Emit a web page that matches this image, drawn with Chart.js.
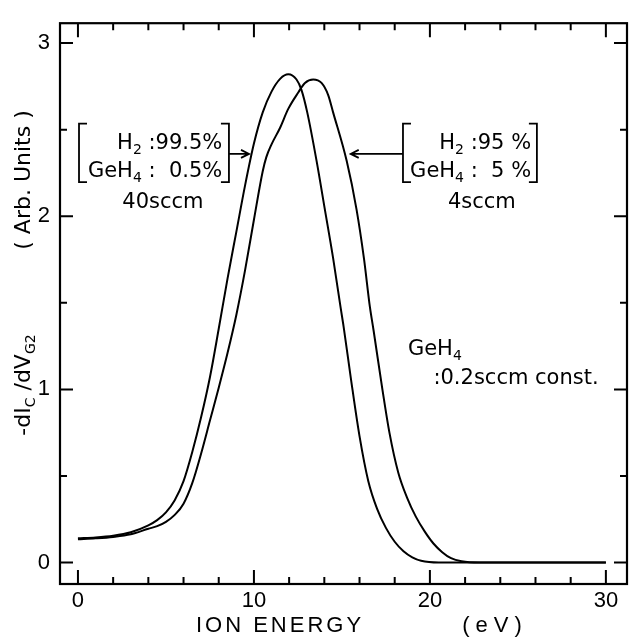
<!DOCTYPE html>
<html>
<head>
<meta charset="utf-8">
<script src="https://cdn.jsdelivr.net/npm/chart.js@4.4.1/dist/chart.umd.min.js"></script>
<style>
  html, body { margin: 0; padding: 0; background: #fff; }
  canvas { display: block; }
</style>
</head>
<body>
<canvas id="ionChart" width="640" height="642"></canvas>
<script>
// H2 99.5% / GeH4 0.5%, 40 sccm
const energyA = [0, 1, 2, 3, 4, 4.5, 5, 5.5, 6, 6.5, 7, 7.5, 8, 8.5, 9, 9.5, 10, 10.5, 11, 11.5, 11.95,
  12.42, 12.7, 13.03, 13.56, 14.03, 14.5, 14.92, 15.1, 15.5, 16, 16.5, 17, 17.5, 18, 18.5, 19, 19.5, 20.5, 25, 30];
const signalA = [0.14, 0.145, 0.155, 0.175, 0.215, 0.245, 0.29, 0.36, 0.47, 0.64, 0.84, 1.07, 1.35, 1.64, 1.91, 2.18, 2.42, 2.6, 2.72, 2.795, 2.82,
  2.79, 2.73, 2.6, 2.32, 2.04, 1.758, 1.476, 1.36, 1.07, 0.73, 0.47, 0.31, 0.2, 0.12, 0.065, 0.03, 0.01, 0, 0, 0];

// H2 95% / GeH4 5%, 4 sccm
const energyB = [0, 1, 2, 3, 4, 4.5, 5, 5.5, 6, 6.5, 7, 7.5, 8, 8.5, 9, 9.5, 10, 10.5, 10.7, 11, 11.48, 11.95, 12.52, 12.9, 13.37,
  13.84, 14.22, 14.5, 15.27, 15.83, 16.25, 16.59, 16.8, 17.3, 17.7, 18.2, 18.7, 19.2, 19.7, 20.2, 20.7, 21.2, 21.8, 22.8, 30];
const signalB = [0.135, 0.14, 0.148, 0.163, 0.195, 0.21, 0.235, 0.275, 0.34, 0.46, 0.63, 0.82, 1.01, 1.21, 1.43, 1.69, 1.98, 2.26, 2.34, 2.415, 2.51, 2.62, 2.715, 2.77, 2.79,
  2.77, 2.7, 2.6, 2.32, 2.04, 1.758, 1.476, 1.34, 1.0, 0.75, 0.52, 0.375, 0.265, 0.18, 0.11, 0.06, 0.025, 0.007, 0, 0];

const xTickLabels = [0, 10, 20, 30];
const xMinorTicks = [2, 4, 6, 8, 12, 14, 16, 18, 22, 24, 26, 28];
const yTickLabels = [0, 1, 2, 3];
const yMinorTicks = [0.5, 1.5, 2.5];

const toPoints = (xs, ys) => xs.map((x, i) => ({ x: x, y: ys[i] }));

// draw text with subscripts: parts = [[text, isSub], ...]
function drawRich(ctx, parts, x, y, align, size) {
  const main = size + 'px "DejaVu Sans"';
  const sub = Math.round(size * 0.65) + 'px "DejaVu Sans"';
  let w = 0;
  parts.forEach(p => { ctx.font = p[1] ? sub : main; w += ctx.measureText(p[0]).width; });
  let cx = align === 'right' ? x - w : align === 'center' ? x - w / 2 : x;
  ctx.textAlign = 'left';
  ctx.textBaseline = 'middle';
  parts.forEach(p => {
    ctx.font = p[1] ? sub : main;
    ctx.fillText(p[0], cx, p[1] ? y + size * 0.32 : y);
    cx += ctx.measureText(p[0]).width;
  });
}

function bracket(ctx, x, top, bottom, dir) {
  ctx.beginPath();
  ctx.moveTo(x + 8 * dir, top);
  ctx.lineTo(x, top);
  ctx.lineTo(x, bottom);
  ctx.lineTo(x + 8 * dir, bottom);
  ctx.stroke();
}

function arrow(ctx, x1, x2, y) {
  const d = x2 > x1 ? 1 : -1;
  ctx.beginPath();
  ctx.moveTo(x1, y);
  ctx.lineTo(x2, y);
  ctx.moveTo(x2 - 8 * d, y - 4);
  ctx.lineTo(x2, y);
  ctx.lineTo(x2 - 8 * d, y + 4);
  ctx.stroke();
}

const framePlugin = {
  id: 'frame',
  afterDraw(chart) {
    const ctx = chart.ctx;
    const { left, right, top, bottom } = chart.chartArea;
    const xs = chart.scales.x, ys = chart.scales.y;
    const px = v => xs.getPixelForValue(v);
    const py = v => ys.getPixelForValue(v);
    ctx.save();
    ctx.strokeStyle = '#000';
    ctx.fillStyle = '#000';
    ctx.lineWidth = 2.2;
    ctx.strokeRect(left, top, right - left, bottom - top);

    // inward ticks on all four sides
    ctx.lineWidth = 2;
    ctx.beginPath();
    xTickLabels.concat(xMinorTicks).forEach(v => {
      const len = xTickLabels.includes(v) ? 14 : 7;
      ctx.moveTo(px(v), bottom); ctx.lineTo(px(v), bottom - len);
      ctx.moveTo(px(v), top); ctx.lineTo(px(v), top + len);
    });
    yTickLabels.concat(yMinorTicks).forEach(v => {
      const len = yTickLabels.includes(v) ? 13 : 7;
      ctx.moveTo(left, py(v)); ctx.lineTo(left + len, py(v));
      ctx.moveTo(right, py(v)); ctx.lineTo(right - len, py(v));
    });
    ctx.stroke();

    // axis titles
    ctx.font = '22px "Liberation Sans"';
    ctx.textBaseline = 'middle';
    ctx.textAlign = 'center';
    ctx.letterSpacing = '3px';
    ctx.fillText('ION ENERGY', 280, 626);
    ctx.letterSpacing = '6px';
    ctx.fillText('(eV)', 495, 626);
    ctx.letterSpacing = '0px';

    ctx.save();
    ctx.translate(24, 0);
    ctx.rotate(-Math.PI / 2);
    drawRich(ctx, [['-d', false], ['I', false], ['C', true], [' /d', false], ['V', false], ['G2', true]], -385, 0, 'center', 22);
    drawRich(ctx, [['( Arb. Units )', false]], -180, 0, 'center', 22);
    ctx.restore();

    // left note: H2 99.5 %, 40 sccm
    ctx.lineWidth = 1.8;
    bracket(ctx, px(0.06), py(2.535), py(2.197), 1);
    bracket(ctx, px(8.58), py(2.535), py(2.197), -1);
    drawRich(ctx, [['H', false], ['2', true], [' :99.5%', false]], px(8.2), py(2.42), 'right', 21);
    drawRich(ctx, [['GeH', false], ['4', true], [' :  0.5%', false]], px(8.2), py(2.26), 'right', 21);
    drawRich(ctx, [['40sccm', false]], px(4.83), py(2.08), 'center', 21);
    arrow(ctx, px(8.58), px(9.72), py(2.36));

    // right note: H2 95 %, 4 sccm
    bracket(ctx, px(18.47), py(2.535), py(2.197), 1);
    bracket(ctx, px(26.08), py(2.535), py(2.197), -1);
    drawRich(ctx, [['H', false], ['2', true], [' :95 %', false]], px(25.75), py(2.42), 'right', 21);
    drawRich(ctx, [['GeH', false], ['4', true], [' :  5 %', false]], px(25.75), py(2.26), 'right', 21);
    drawRich(ctx, [['4sccm', false]], px(22.95), py(2.08), 'center', 21);
    arrow(ctx, px(18.47), px(15.5), py(2.36));

    drawRich(ctx, [['GeH', false], ['4', true]], px(18.75), py(1.23), 'left', 21);
    drawRich(ctx, [[':0.2sccm const.', false]], px(20.2), py(1.06), 'left', 21);
    ctx.restore();
  }
};

const lineStyle = {
  borderColor: '#000',
  borderWidth: 2,
  pointRadius: 0,
  showLine: true,
  fill: false,
  cubicInterpolationMode: 'monotone'
};

new Chart(document.getElementById('ionChart').getContext('2d'), {
  type: 'scatter',
  data: {
    datasets: [
      Object.assign({ label: 'H2 99.5% / GeH4 0.5%, 40 sccm', data: toPoints(energyA, signalA) }, lineStyle),
      Object.assign({ label: 'H2 95% / GeH4 5%, 4 sccm', data: toPoints(energyB, signalB) }, lineStyle)
    ]
  },
  options: {
    responsive: false,
    animation: false,
    layout: { padding: { top: 9, right: 13, left: 0, bottom: 0 } },
    plugins: { legend: { display: false }, tooltip: { enabled: false } },
    scales: {
      x: {
        type: 'linear',
        min: -1.02,
        max: 31.2,
        grid: { display: false, drawTicks: false },
        border: { display: false },
        afterBuildTicks: s => { s.ticks = xTickLabels.map(v => ({ value: v })); },
        afterFit: s => { s.height = 58; },
        ticks: { color: '#000', padding: 4, maxRotation: 0, font: { family: 'Liberation Sans', size: 22 } }
      },
      y: {
        type: 'linear',
        min: -0.124,
        max: 3.115,
        grid: { display: false, drawTicks: false },
        border: { display: false },
        afterBuildTicks: s => { s.ticks = yTickLabels.map(v => ({ value: v })); },
        afterFit: s => { s.width = 60; },
        ticks: { color: '#000', padding: 10, font: { family: 'Liberation Sans', size: 22 } }
      }
    }
  },
  plugins: [framePlugin]
});
</script>
</body>
</html>
